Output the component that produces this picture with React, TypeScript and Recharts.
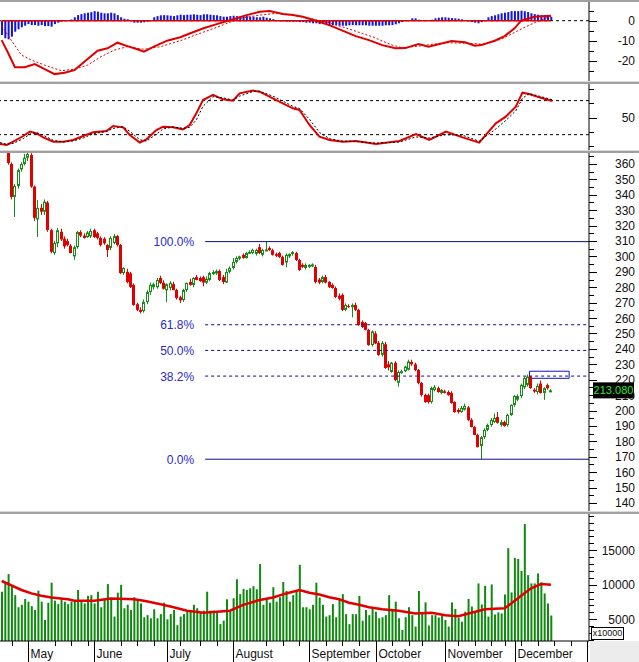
import React from "react";
import { Bar, ComposedChart, Line, ReferenceArea, ReferenceLine, XAxis, YAxis } from "recharts";

// [open, high, low, close] per trading day
const candles: number[][] = [
  [382, 386, 372, 375], [375, 377, 368, 369], [368, 369, 359.5, 360.6], [360, 361, 337, 338.6], [338.6, 347, 325.6, 345.7],
  [345.7, 357, 344, 356], [356.5, 361, 355, 360], [360, 366.5, 359, 364], [364, 367.5, 362, 366.5], [365.8, 367, 344.5, 345.3],
  [345.3, 346, 323, 325], [324, 336.6, 312.6, 331.5], [331.5, 334, 327, 329], [329, 337, 326.9, 335.5], [335, 336, 316, 317.2],
  [317, 318, 302, 303], [302.2, 310, 301, 308.7], [308.5, 318.5, 306, 317], [316, 318, 310, 311], [311.5, 313, 305, 306.5],
  [310, 311.5, 306.5, 307.5], [307, 308, 302, 302.2], [300, 307, 297.7, 306], [306, 316.5, 305, 315.8], [315.8, 317, 312.5, 313.5],
  [313.5, 315, 311.5, 312], [312.5, 316.5, 312, 315.5], [313, 318, 312, 316.5], [317, 318, 312, 312.6], [315, 316, 311, 312],
  [312, 313, 306.5, 307.4], [311.5, 312.5, 307.5, 308.5], [307.4, 308, 299.6, 304.2], [305.5, 313, 304, 312], [308.7, 314.5, 308, 313.2],
  [313.2, 314, 306.5, 307.4], [307.4, 308, 288.5, 289.2], [289.2, 293, 288, 292.5], [290, 292, 282.5, 283.4], [289, 290, 279.5, 280.2],
  [281.5, 282.5, 268, 268.5], [269, 270, 264.5, 265.3], [265.3, 267, 263, 264], [264.5, 272, 263.5, 270.4], [270.4, 278, 269, 276.9],
  [276.9, 283, 275, 281.5], [280, 283, 278.5, 282], [280, 286, 279, 284.7], [286, 287.5, 282, 282.8], [283, 284.5, 278.5, 279],
  [278, 282.5, 270.4, 282], [279.5, 284, 278, 282.8], [282, 283.5, 278, 278.2], [278.2, 279, 272, 273], [273.5, 274.5, 269.8, 271.5],
  [271.7, 279, 270.5, 278.2], [278.2, 283, 277, 282.8], [283.4, 285.5, 281, 281.5], [281.5, 286.5, 280, 286], [286.6, 288, 284.5, 284.7],
  [286, 287, 283.5, 284], [286.5, 287.5, 280.6, 283], [283, 287, 282, 285.5], [284.7, 290, 284, 289.2], [288.5, 291, 288, 289.9],
  [289, 291.5, 288, 290.5], [290.5, 291.5, 284, 284.7], [286.6, 288, 282, 283.4], [283, 292, 282.8, 289.9], [290, 293.5, 289, 292.5],
  [292.5, 299, 291.5, 296.4], [296.4, 300, 295.5, 299], [298.5, 300.5, 297.5, 300], [301, 302, 298.5, 299], [299, 303, 298.5, 302.2],
  [302, 304, 301.5, 303], [302.2, 305, 301.5, 304.2], [301.6, 305, 300.5, 304.2], [306, 308.1, 301.5, 302.2], [301, 305, 300, 304.2],
  [304, 309.6, 303.5, 304.5], [305.5, 306.5, 303.5, 304.2], [304, 305, 300.5, 301], [301.5, 302.5, 299.5, 300.4], [302.2, 303, 299, 299.6],
  [299.6, 300.5, 294, 294.5], [296, 302, 293, 301], [300, 302, 299, 301.5], [301.5, 303.5, 300.5, 302.8], [302.2, 303, 297, 297.7],
  [297.7, 298.5, 290.5, 291.2], [294.5, 295.5, 292.5, 293.2], [292.5, 295.5, 291.5, 294.5], [293.5, 295, 292.5, 294.5], [294, 295.5, 293, 294.8],
  [293.2, 294.5, 282.5, 283.4], [285, 286, 282, 283], [283.4, 287.5, 282.5, 286.6], [286.6, 288, 282.5, 283], [283.4, 284, 279.5, 280.2],
  [281.5, 282.5, 279, 279.5], [279.5, 280.5, 273, 273.7], [274.5, 276, 271.5, 272.5], [275, 276, 264.5, 265.3], [265.3, 269.5, 264.5, 268.5],
  [267.8, 269, 266.5, 267.2], [267, 269.5, 260.5, 268.5], [268.5, 270, 264.5, 265.3], [265.3, 266, 255, 255.5], [257.5, 258.5, 253.5, 254.2],
  [256.8, 257.5, 252, 252.3], [252.3, 253, 242, 242.5], [242.5, 252, 241.5, 251.3], [250, 251.5, 243, 243.5], [243.9, 245, 235.5, 236.1],
  [236.1, 245, 235, 243.9], [243, 244.5, 227, 227.6], [230, 232, 226, 228], [225, 231.5, 224.5, 231], [231, 232, 219, 219.8],
  [218, 226, 215.5, 225], [225, 226.5, 224, 225.5], [225.5, 229, 225, 228.5], [226.5, 233, 226, 231.8], [231.5, 233, 229, 230],
  [230, 231, 225.5, 226.3], [226.3, 227, 217, 217.9], [217.9, 218.5, 209, 210.1], [210.1, 211, 205, 205.5], [210, 211, 204.5, 205.5],
  [205.5, 215.5, 204.5, 214.6], [213.3, 216.5, 212.5, 215.3], [214.6, 215.5, 211.5, 212], [211.4, 214, 210.5, 213.3], [212.5, 213.5, 211, 211.4],
  [212, 213, 209.5, 210.1], [211.4, 212.5, 204.5, 204.9], [205.5, 206, 198.5, 199], [200.4, 201.5, 198, 199], [199, 203, 198.5, 201.7],
  [200.5, 204.5, 200, 203], [202, 203, 193, 193.9], [194, 195, 189, 189.3], [189.3, 190, 184, 184.1], [184.1, 185, 176, 176.3],
  [177, 183.5, 168.4, 182.7], [182.7, 188.5, 181.5, 187.4], [187.4, 191.5, 186.5, 190.6], [190.6, 195, 189.5, 193.9], [192.5, 198, 192, 195.2],
  [195.8, 199, 191.5, 192], [190.6, 194, 189.5, 192.5], [192.5, 193.5, 189.5, 190], [190.6, 198, 189.5, 197.1], [197.1, 204, 196.5, 203.6],
  [203.6, 210, 202.5, 209.5], [207, 210.5, 206, 209.4], [209.4, 217.5, 208, 216.6], [215, 222, 214, 221.1], [216.6, 223.3, 215.5, 222],
  [222, 222.5, 214, 214.6], [213.5, 214.5, 211.5, 212.3], [212, 217.5, 210.5, 216], [217.5, 219.5, 211, 211.4], [211.4, 215, 206.9, 214.5],
  [216.5, 217.5, 213.5, 214.5], [212.8, 214, 212.3, 213.08],
];

const volumes = [
  9000, 10200, 11550, 9700, 8500, 6750, 7100, 7950, 7550, 6900, 6350, 9150, 7550, 4900, 7400, 10300, 7700, 7200, 7950, 7550,
  7200, 7550, 7550, 9250, 7800, 7300, 8400, 8500, 7300, 9000, 6750, 7900, 10100, 8000, 5400, 8850, 10000, 6600, 7100, 6350,
  8200, 7800, 7300, 5300, 5600, 5150, 6450, 5150, 5750, 7400, 5000, 5750, 6350, 4150, 5400, 5750, 6100, 6100, 7100, 6600,
  5950, 6250, 9000, 6250, 6250, 6100, 4300, 4800, 7900, 6100, 8050, 10800, 8650, 9400, 9250, 9500, 9800, 9350, 13000, 7100,
  8050, 7400, 9650, 7550, 8200, 10400, 9100, 7550, 8500, 9250, 12900, 6750, 6750, 6450, 7100, 10300, 8150, 7100, 5400, 5600,
  7200, 5300, 7800, 8650, 5750, 4300, 5750, 5750, 8400, 4800, 6350, 5600, 6600, 6100, 5150, 5300, 5600, 8500, 6350, 7550,
  5150, 3450, 5300, 6750, 5600, 3950, 9100, 6000, 7450, 4100, 5600, 5600, 5250, 5550, 4900, 3950, 7450, 6500, 5250, 4650,
  6100, 7950, 6850, 6200, 10200, 7150, 9850, 5400, 10050, 5700, 6000, 5850, 8600, 15300, 8900, 13900, 13750, 12000, 18800, 11400,
  10200, 10200, 11650, 10350, 8750, 7300, 5550,
];

// [day index, value]
const volumeMa = [
  [0, 10550], [6, 9250], [9, 8750], [12, 8400], [15, 8150], [20, 7900], [22, 7700], [28, 7700], [33, 8000], [40, 7900],
  [43, 7700], [47, 7300], [52, 6750], [56, 6250], [61, 5950], [65, 6100], [69, 6250], [73, 7100], [78, 7800], [82, 8150],
  [86, 8750], [90, 9250], [93, 8850], [96, 8600], [99, 8200], [102, 7900], [105, 7400], [108, 7100], [111, 6750], [115, 6450],
  [120, 6250], [125, 5850], [130, 5950], [134, 5600], [138, 5450], [142, 5950], [146, 6450], [152, 6600], [154, 7300], [157, 8400],
  [160, 9500], [163, 10100], [166, 10000],
];

const macdHist = [
  -7.2, -8.8, -9.3, -8, -5.5, -4.3, -3.3, -2.5, -1.7, -2.2, -2.2, -2.5, -2.2, -2.7, -2.7, -3, -1.7, -1, -0.5, -0.2,
  0.1, 0.6, 1.7, 2.8, 3.3, 3.7, 4, 4.3, 4.8, 4.5, 4, 3.7, 3.7, 4, 3.7, 2.8, 1.7, 1, 0.7, -0.2,
  -1, -1, -1, -0.8, -0.5, 0.2, 1.7, 2.3, 2.7, 2.8, 2.7, 2.5, 2.3, 2.7, 3, 2.8, 3, 3, 3.2, 3,
  2.8, 3.2, 3.2, 3, 2.8, 2.7, 2.3, 2, 2, 2.3, 2.5, 2.3, 2.2, 2, 2.3, 2, 2, 1.7, 1.7, 2,
  1.5, 1.2, 0.8, 0.3, -0.3, -0.3, -0.5, -0.5, -0.5, -0.5, -0.7, -0.7, -1, -1, -1.3, -1.3, -1.7, -1.7, -2, -2.2,
  -2.3, -2.3, -2.5, -2.5, -2.5, -2.3, -2.2, -2.3, -2.3, -2.3, -2.3, -2.5, -2.5, -2.5, -2.5, -2.5, -2.3, -2.3, -2.2, -1.8,
  -1.3, -0.7, -0.2, 0.3, 1.2, 1.2, 0.5, 0.1, -0.1, 0.1, 0.5, 1.2, 1.5, 1.7, 1.7, 1.5, 1.3, 1.2, 1, 0.7,
  0.3, -0.3, -0.7, -1, -1.3, -0.7, 0.2, 1.7, 2.3, 2.7, 3.2, 3.7, 4, 4.3, 4.8, 4.8, 4.8, 5, 4.7, 4.3,
  3.7, 3.3, 3, 2.8, 2.8, 2.5, 2,
];

const macdLine = [
  [0, -9.7], [2, -16.3], [4, -23.3], [7, -23.3], [10, -21.7], [13, -24.2], [16, -26.7], [19, -26], [22, -24.7], [25, -20.5],
  [29, -15], [32, -13.8], [35, -11], [38, -12.7], [41, -14.3], [43, -15.5], [46, -13], [50, -10], [54, -8.3], [57, -6.3],
  [61, -3.8], [65, -1.7], [70, 0.7], [74, 2.8], [78, 4.5], [81, 4.8], [85, 3.3], [88, 2.8], [91, 2], [96, -0.5],
  [99, -2.2], [103, -5], [107, -7.7], [111, -9.7], [115, -12.2], [119, -13.8], [122, -13.7], [126, -11.7], [129, -13], [132, -11.8],
  [136, -10.2], [140, -10.8], [143, -12.5], [145, -12.2], [149, -10], [152, -7.7], [155, -3.8], [157, 0], [161, 2], [166, 2.5],
];

const macdSignal = [
  [0, -2.5], [3, -10], [6, -17.2], [9, -19.7], [13, -22.2], [18, -25], [22, -24.3], [26, -22.2], [30, -18], [34, -14.7],
  [38, -13], [43, -14.3], [48, -13], [54, -10], [60, -6.3], [66, -2.7], [72, 1.2], [78, 2.8], [83, 3.7], [88, 2.8],
  [93, 1.2], [99, -1], [106, -4.7], [112, -8], [118, -12.2], [121, -13.5], [126, -12.7], [134, -11], [141, -11.3], [145, -11.7],
  [151, -9.3], [156, -5], [161, -1], [166, 2.3],
];

const stochK = [
  [0, 3.5], [2, 1.8], [4, 7.6], [7, 17.6], [9, 25.3], [11, 22.3], [13, 15.3], [16, 7.6], [19, 7.6], [22, 10.6],
  [25, 17.6], [28, 24.1], [32, 26.5], [34, 35.3], [37, 32.9], [39, 19.4], [42, 5.9], [44, 11.8], [47, 28.2], [49, 34.1],
  [52, 32.9], [55, 29.4], [57, 37], [59, 57.6], [61, 81.1], [64, 90], [67, 82.3], [70, 80], [72, 92.9], [76, 97.6],
  [78, 95.8], [82, 84.1], [85, 75.2], [88, 66.4], [90, 63.5], [93, 37], [96, 16.5], [99, 10.6], [103, 7.6], [107, 8.8],
  [113, 3.5], [120, 8.8], [125, 21.2], [129, 10.6], [134, 25.3], [139, 15.3], [144, 5.9], [149, 40], [152, 51.7], [155, 69.4],
  [157, 94], [159, 91.7], [162, 85.8], [166, 79.4],
];

const stochD = [
  [0, 6], [2, 3], [4, 4.5], [7, 13], [9, 21], [11, 23.5], [13, 19], [16, 10], [19, 7], [22, 9],
  [25, 14], [28, 21.5], [32, 25.5], [34, 31], [37, 34], [39, 26], [42, 11], [44, 8.5], [47, 21], [49, 30],
  [52, 33.5], [55, 31], [57, 33], [59, 46], [61, 70], [64, 87], [67, 85], [70, 81], [72, 88], [76, 96],
  [78, 96.5], [82, 88], [85, 79], [88, 70], [90, 66], [93, 47], [96, 24], [99, 13], [103, 8.5], [107, 8],
  [113, 5], [120, 7], [125, 16], [129, 14], [134, 20], [139, 19], [144, 8.5], [149, 30], [152, 45], [155, 62],
  [157, 84], [159, 92.5], [162, 88], [166, 81.5],
];

const months = [
  { i: 8, label: "May" }, { i: 28, label: "June" }, { i: 50, label: "July" }, { i: 70, label: "August" },
  { i: 93, label: "September" }, { i: 113, label: "October" }, { i: 134, label: "November" }, { i: 155, label: "December" },
];
const weekTicks = [3, 16, 21, 26, 36, 41, 46, 54, 60, 65, 80, 85, 90, 98, 103, 108, 118, 123, 127, 138, 143, 148, 152, 157, 162, 167, 172, 177];

const fibHigh = 309.6;
const fibLow = 168.4;
const fibLevels = [
  { pct: 100, label: "100.0%", solid: true },
  { pct: 61.8, label: "61.8%", solid: false },
  { pct: 50, label: "50.0%", solid: false },
  { pct: 38.2, label: "38.2%", solid: false },
  { pct: 0, label: "0.0%", solid: true },
];
const fibStart = 61;

const priceLabels = [140, 150, 160, 170, 180, 190, 200, 210, 220, 230, 240, 250, 260, 270, 280, 290, 300, 310, 320, 330, 340, 350, 360];
const macdLabels = [0, -10, -20];
const macdMinor = [5, -5, -15, -25, -30];
const stochLabels = [50];
const stochMinor = [0, 25, 75, 100];
const volLabels = [5000, 10000, 15000];

const SLOTS = 178;
const LAST = SLOTS - 1;
const lastPrice = candles[candles.length - 1][3];

const RED = "#e00000";
const GREEN = "#168c16";
const NAVY = "#0c0c8c";
const FONT = "'Liberation Sans', Arial, sans-serif";

const toMap = (pairs: number[][]) => new Map(pairs.map(([i, v]) => [i, v]));
const maMap = toMap(volumeMa);
const macdMap = toMap(macdLine);
const sigMap = toMap(macdSignal);
const kMap = toMap(stochK);
const dMap = toMap(stochD);

const rows = Array.from({ length: SLOTS }, (_, i) => {
  const k = candles[i];
  return {
    i,
    o: k ? k[0] : null,
    h: k ? k[1] : null,
    l: k ? k[2] : null,
    c: k ? k[3] : null,
    range: k ? [k[2], k[1]] : null,
    vol: i < volumes.length ? volumes[i] : null,
    volMa: maMap.get(i) ?? null,
    hist: i < macdHist.length ? macdHist[i] : null,
    macd: macdMap.get(i) ?? null,
    signal: sigMap.get(i) ?? null,
    k: kMap.get(i) ?? null,
    d: dMap.get(i) ?? null,
  };
});

function Candle(props: any) {
  const { x, y, width, height, payload } = props;
  if (!payload || payload.o == null) return <g />;
  const { o, h, l, c } = payload;
  const top = Math.min(y, y + height);
  const bot = Math.max(y, y + height);
  const py = (p: number) => (h === l ? top : top + ((h - p) / (h - l)) * (bot - top));
  const px = Math.floor(x + width / 2);
  const up = c >= o;
  const color = up ? GREEN : RED;
  const bTop = py(Math.max(o, c));
  const bBot = py(Math.min(o, c));
  return (
    <g>
      <line x1={px + 0.5} x2={px + 0.5} y1={top} y2={bot} stroke={color} strokeWidth={1} />
      {up ? (
        <rect x={px - 0.5} y={bTop + 0.5} width={2} height={Math.max(1, bBot - bTop - 1)} fill="#fff" stroke={color} strokeWidth={1} />
      ) : (
        <rect x={px - 1} y={bTop} width={3} height={Math.max(1, bBot - bTop)} fill={color} />
      )}
    </g>
  );
}

function AxisTick(props: any) {
  const { x, y, payload, labels, fmt } = props;
  const v = payload.value;
  const yy = Math.round(y) + 0.5;
  if (v === lastPrice) {
    return (
      <g>
        <rect x={x + 4} y={y - 8} width={41} height={16} fill="#000" />
        <text x={x + 24.5} y={y + 4} textAnchor="middle" fill="#2ee62e" fontSize={11} fontFamily={FONT}>
          {v.toFixed(3)}
        </text>
      </g>
    );
  }
  const major = labels.includes(v);
  return (
    <g>
      <line x1={x} x2={x + (major ? 8 : 5)} y1={yy} y2={yy} stroke="#000" />
      {major && (
        <text x={x + 46} y={y + 4.5} textAnchor="end" fill="#111" fontSize={12} fontFamily={FONT}>
          {fmt ? fmt(v) : v}
        </text>
      )}
    </g>
  );
}

function MonthTick(props: any) {
  const { x, y, payload } = props;
  const m = months.find((mm) => mm.i === payload.value);
  const long = !!m || payload.value === LAST;
  const px = Math.round(x) + 0.5;
  return (
    <g>
      <line x1={px} x2={px} y1={y} y2={y + (long ? 21 : 5)} stroke="#000" />
      {m && (
        <text x={px + 2} y={y + 17} fill="#111" fontSize={12} fontFamily={FONT}>
          {m.label}
        </text>
      )}
    </g>
  );
}

function FibLabel(props: any) {
  const { viewBox, text } = props;
  if (!viewBox) return null;
  return (
    <text x={viewBox.x - 11} y={viewBox.y + 4.5} textAnchor="end" fill="#2a2ac8" fontSize={12} fontFamily={FONT}>
      {text}
    </text>
  );
}

const margin = { top: 0, right: 0, bottom: 0, left: 0 };

function Sep({ top }: { top: number }) {
  return (
    <>
      <div style={{ position: "absolute", left: 0, top, width: 639, height: 1, background: "#dadada" }} />
      <div style={{ position: "absolute", left: 0, top: top + 1, width: 639, height: 2, background: "#a0a0a0" }} />
    </>
  );
}

export default function App() {
  return (
    <div style={{ position: "absolute", left: 0, top: 0, width: 639, height: 662, background: "#fff", overflow: "hidden", fontFamily: FONT }}>
      <div style={{ position: "absolute", left: 0, top: 0, width: 639, height: 2, background: "#a0a0a0" }} />

      <div style={{ position: "absolute", left: 0, top: 2 }}>
        <ComposedChart width={639} height={79} data={rows} margin={margin} barCategoryGap={0}>
          <XAxis dataKey="i" hide />
          <YAxis
            orientation="right"
            width={50}
            domain={[-30.15, 9.35]}
            ticks={[...macdMinor, ...macdLabels]}
            interval={0}
            tickSize={0}
            tickMargin={0}
            axisLine={{ stroke: "#000" }}
            tickLine={false}
            tick={(p: any) => <AxisTick {...p} labels={macdLabels} />}
          />
          <ReferenceLine y={0} stroke="#000" strokeDasharray="3 3" />
          <Bar dataKey="hist" barSize={2} fill="#1414dc" isAnimationActive={false} />
          <ReferenceLine segment={[{ x: 0, y: 0 }, { x: candles.length - 1, y: 0 }]} stroke={RED} strokeWidth={1.5} />
          <Line dataKey="signal" stroke={RED} strokeWidth={1} strokeDasharray="2 2" dot={false} connectNulls isAnimationActive={false} />
          <Line dataKey="macd" stroke={RED} strokeWidth={2} dot={false} connectNulls isAnimationActive={false} />
        </ComposedChart>
      </div>

      <Sep top={81} />

      <div style={{ position: "absolute", left: 0, top: 84 }}>
        <ComposedChart width={639} height={66} data={rows} margin={margin} barCategoryGap={0}>
          <XAxis dataKey="i" hide />
          <YAxis
            orientation="right"
            width={50}
            domain={[-7.05, 109.3]}
            ticks={[...stochMinor, ...stochLabels]}
            interval={0}
            tickSize={0}
            tickMargin={0}
            axisLine={{ stroke: "#000" }}
            tickLine={false}
            tick={(p: any) => <AxisTick {...p} labels={stochLabels} />}
          />
          <ReferenceLine y={80} stroke="#000" strokeDasharray="3 3" />
          <ReferenceLine y={20} stroke="#000" strokeDasharray="3 3" />
          <Line dataKey="k" stroke={RED} strokeWidth={2} dot={false} connectNulls isAnimationActive={false} />
          <Line dataKey="d" stroke="#000" strokeWidth={1} strokeDasharray="2 2" dot={false} connectNulls isAnimationActive={false} />
        </ComposedChart>
      </div>

      <Sep top={150} />

      <div style={{ position: "absolute", left: 0, top: 153 }}>
        <ComposedChart width={639} height={358} data={rows} margin={margin} barCategoryGap={0}>
          <XAxis dataKey="i" hide />
          <YAxis
            orientation="right"
            width={50}
            domain={[134.8, 367.1]}
            allowDataOverflow
            ticks={[...priceLabels.map((v) => v - 5), 365, ...priceLabels, lastPrice]}
            interval={0}
            tickSize={0}
            tickMargin={0}
            axisLine={{ stroke: "#000" }}
            tickLine={false}
            tick={(p: any) => <AxisTick {...p} labels={priceLabels} />}
          />
          {fibLevels.map((f) => {
            const price = fibLow + ((fibHigh - fibLow) * f.pct) / 100;
            return (
              <ReferenceLine
                key={f.label}
                segment={[{ x: fibStart, y: price }, { x: LAST, y: price }]}
                position="end"
                stroke={NAVY}
                strokeWidth={1}
                strokeDasharray={f.solid ? undefined : "3 3"}
                label={<FibLabel text={f.label} />}
              />
            );
          })}
          <ReferenceArea x1={160} x2={171} y1={220.9} y2={225.5} stroke="#1010c0" strokeWidth={1} fill="none" fillOpacity={0} />
          <Bar dataKey="range" shape={(p: any) => <Candle {...p} />} isAnimationActive={false} />
        </ComposedChart>
      </div>

      <Sep top={511} />

      <div style={{ position: "absolute", left: 0, top: 514 }}>
        <ComposedChart width={639} height={148} data={rows} margin={margin} barCategoryGap={0}>
          <XAxis
            dataKey="i"
            height={21}
            ticks={[...weekTicks, ...months.map((m) => m.i)]}
            interval={0}
            tickSize={0}
            tickMargin={0}
            axisLine={{ stroke: "#000" }}
            tickLine={false}
            tick={(p: any) => <MonthTick {...p} />}
          />
          <YAxis
            orientation="right"
            width={50}
            domain={[1856, 20258]}
            ticks={[2000, 3000, 4000, 6000, 7000, 8000, 9000, 11000, 12000, 13000, 14000, 16000, 17000, 18000, 19000, 20000, ...volLabels]}
            interval={0}
            tickSize={0}
            tickMargin={0}
            axisLine={{ stroke: "#000" }}
            tickLine={false}
            tick={(p: any) => <AxisTick {...p} labels={volLabels} />}
          />
          <Bar dataKey="vol" barSize={2} fill="#0f8a0f" isAnimationActive={false} />
          <Line dataKey="volMa" stroke={RED} strokeWidth={2.5} dot={false} connectNulls isAnimationActive={false} />
        </ComposedChart>
      </div>

      <div style={{ position: "absolute", left: 590, top: 641, width: 49, height: 21, background: "#ececec" }} />
      <div
        style={{
          position: "absolute",
          left: 591,
          top: 627,
          width: 31,
          height: 11,
          border: "1px solid #000",
          background: "#fff",
          fontSize: 9,
          lineHeight: "11px",
          textAlign: "center",
          color: "#111",
        }}
      >
        x10000
      </div>
    </div>
  );
}
